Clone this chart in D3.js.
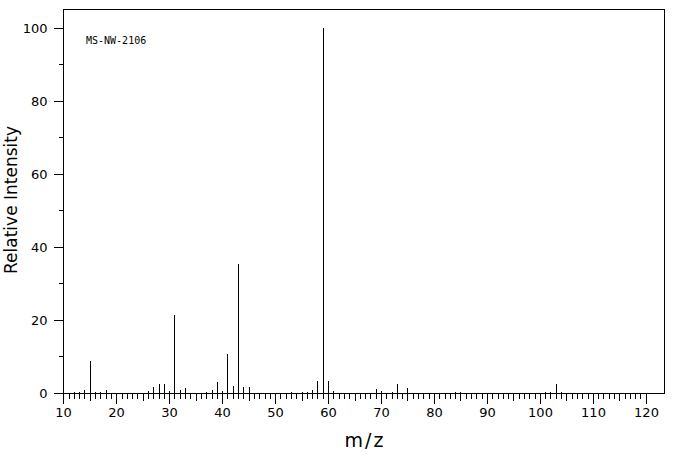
<!DOCTYPE html>
<html><head><meta charset="utf-8">
<script src="https://cdn.jsdelivr.net/npm/d3@7"></script>
<style>
html,body{margin:0;padding:0;background:#fff;}
svg{display:block;}
text{font-family:"DejaVu Sans",sans-serif;fill:#000;}
</style></head>
<body>
<svg id="c" width="676" height="455"></svg>
<script>
const mz = [12,13,14,15,16,17,18,26,27,28,29,30,31,32,33,37,38,39,40,41,42,43,44,45,53,55,56,57,58,59,60,61,69,70,72,73,75,84,85,101,102,103,104];
const intensity = [0.2,0.4,0.9,8.8,0.4,0.4,0.9,0.6,1.6,2.6,2.6,0.6,21.4,0.8,1.5,0.4,0.7,2.9,0.6,10.8,1.8,35.3,1.7,1.7,0.3,0.3,0.4,0.8,3.4,100,3.4,0.5,1.1,0.5,0.3,2.5,1.4,0.3,0.3,0.3,0.3,2.5,0.3];
const xMajorTicks = [10,20,30,40,50,60,70,80,90,100,110,120];
const yMajorTicks = [0,20,40,60,80,100];
const xTitle = "m/z";
const yTitle = "Relative Intensity";
const sampleId = "MS-NW-2106";

const L = 63, T = 9, R = 664, B = 393;
const svg = d3.select("#c");
const x = d3.scaleLinear().domain([10, 123.5]).range([L + 0.3, R + 0.3]);
const y = d3.scaleLinear().domain([0, 105.1]).range([B, T]);
const px = v => Math.round(x(v)) + 0.5;

// frame
svg.append("rect").attr("x", L + 0.5).attr("y", T + 0.5).attr("width", R - L).attr("height", B - T)
  .attr("fill", "none").attr("stroke", "#000").attr("stroke-width", 1).attr("shape-rendering", "crispEdges");

// x axis ticks
const xMinor = d3.range(10, 121, 1), xMid = d3.range(15, 121, 10);
function xAxisLayer(vals, size, labels) {
  const ax = d3.axisBottom(x).tickValues(vals).tickSize(size).tickSizeOuter(0).tickPadding(4)
    .tickFormat(labels ? d3.format("d") : "");
  const g = svg.append("g").attr("transform", `translate(0,${B + 0.5})`).call(ax);
  g.select(".domain").remove();
  g.selectAll(".tick").attr("transform", d => `translate(${px(d)},0)`);
  g.selectAll("line").attr("stroke", "#000").attr("shape-rendering", "crispEdges");
  g.selectAll("text").attr("font-size", 13).attr("font-family", "DejaVu Sans, sans-serif").attr("fill", "#000");
}
xAxisLayer(xMinor, 5, false);
xAxisLayer(xMid, 7.5, false);
xAxisLayer(xMajorTicks, 10, true);

// y axis ticks
function yAxisLayer(vals, size, labels) {
  const ax = d3.axisLeft(y).tickValues(vals).tickSize(size).tickSizeOuter(0).tickPadding(6)
    .tickFormat(labels ? d3.format("d") : "");
  const g = svg.append("g").attr("transform", `translate(${L + 0.5},0)`).call(ax);
  g.select(".domain").remove();
  g.selectAll(".tick").attr("transform", d => `translate(0,${Math.round(y(d)) + 0.5})`);
  g.selectAll("line").attr("stroke", "#000").attr("shape-rendering", "crispEdges");
  g.selectAll("text").attr("font-size", 13).attr("font-family", "DejaVu Sans, sans-serif").attr("fill", "#000");
}
yAxisLayer(d3.range(10, 100, 20), 5, false);
yAxisLayer(yMajorTicks, 10, true);

// peaks
svg.append("g").selectAll("line").data(mz.map((m, i) => ({m, v: intensity[i]}))).join("line")
  .attr("x1", d => px(d.m)).attr("x2", d => px(d.m))
  .attr("y1", y(0)).attr("y2", d => y(d.v))
  .attr("stroke", "#000").attr("stroke-width", 1).attr("shape-rendering", "crispEdges");

// titles
svg.append("text").attr("x", 365).attr("y", 447).attr("text-anchor", "middle")
  .attr("font-size", 19).attr("letter-spacing", 2).text(xTitle);
svg.append("text").attr("transform", "translate(17,200) rotate(-90)").attr("text-anchor", "middle")
  .attr("font-size", 17).text(yTitle);
svg.append("text").attr("x", 86).attr("y", 44).attr("font-size", 10)
  .style("font-family", "'DejaVu Sans Mono', monospace").text(sampleId);
</script>
</body></html>
